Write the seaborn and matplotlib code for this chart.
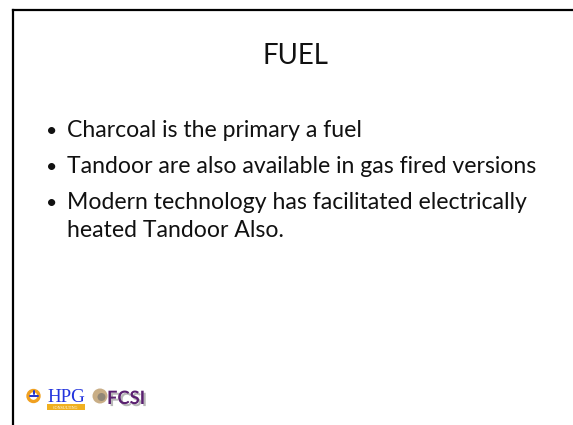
import matplotlib
matplotlib.use("Agg")
import matplotlib.pyplot as plt
import matplotlib.patheffects as pe
import seaborn as sns
from matplotlib.patches import Rectangle, Circle

title = "FUEL"
bullets = [
    ["Charcoal is the primary a fuel"],
    ["Tandoor are also available in gas fired versions"],
    ["Modern technology has facilitated electrically", "heated Tandoor Also."],
]
logo_left = "HPG"
logo_left_sub = "CONSULTING"
logo_right = "FCSI"

sns.set_theme(style="white")
plt.rcParams['font.family'] = ['Lato', 'DejaVu Sans']

W, H = 573, 425
fig = plt.figure(figsize=(W / 100, H / 100), dpi=100)
ax = fig.add_axes([0, 0, 1, 1])
ax.set_xlim(0, W)
ax.set_ylim(H, 0)
ax.axis('off')
renderer = fig.canvas.get_renderer()


def fit(txt, target_w, base=16, **kw):
    t = ax.text(0, 0, txt, fontsize=base, **kw)
    w = t.get_window_extent(renderer).width
    t.remove()
    return base * target_w / w


# slide frame
ax.plot([12.5, 12.5], [H + 5, 10], color='black', lw=1.6, solid_capstyle='projecting')
ax.plot([12.5, W + 5], [10, 10], color='black', lw=1.6, solid_capstyle='projecting')

# title
tfs = fit(title, 66)
ax.text(295, 64, title, ha='center', va='baseline', fontsize=tfs, color='#111111')

# bullets
fs = fit(bullets[1][0], 472)
baselines = [137, 172.5, 209, 237]
k = 0
for item in bullets:
    for j, line in enumerate(item):
        yb = baselines[k]
        if j == 0:
            ax.text(46, yb, "\u2022", ha='left', va='baseline', fontsize=fs * 0.85, color='#111111')
        ax.text(67, yb, line, ha='left', va='baseline', fontsize=fs, color='#111111')
        k += 1

# logos
ax.add_patch(Circle((33.5, 396), 5.5, fill=False, ec='#f0a020', lw=2.4))
ax.plot([29.5, 37.5], [396, 396], color='#2233cc', lw=1.4)
ax.plot([33.5, 33.5], [391, 394], color='#2233cc', lw=1.4)
hfs = fit(logo_left, 38, family=['Liberation Serif'])
ax.text(47, 401.5, logo_left, ha='left', va='baseline', fontsize=hfs, color='#2233dd',
        family=['Liberation Serif'])
ax.add_patch(Rectangle((47, 403.5), 38, 6.5, color='#f0b020', lw=0))
ax.text(66, 407.6, logo_left_sub, ha='center', va='center', fontsize=3.0, color='white',
        family=['Liberation Serif'])
ax.add_patch(Circle((100, 396), 7.5, color='#c9ae86', lw=0))
ax.add_patch(Circle((101.5, 397), 4, color='#6d6d6d', lw=0, alpha=0.6))
ffs = fit(logo_right, 38, fontweight='bold')
ax.text(107, 404, logo_right, ha='left', va='baseline', fontsize=ffs, color='#5a2070',
        fontweight='bold',
        path_effects=[pe.withSimplePatchShadow(offset=(1.5, -1.5), shadow_rgbFace='#9a9a9a', alpha=0.7)])

fig.savefig("out.png", dpi=100)
